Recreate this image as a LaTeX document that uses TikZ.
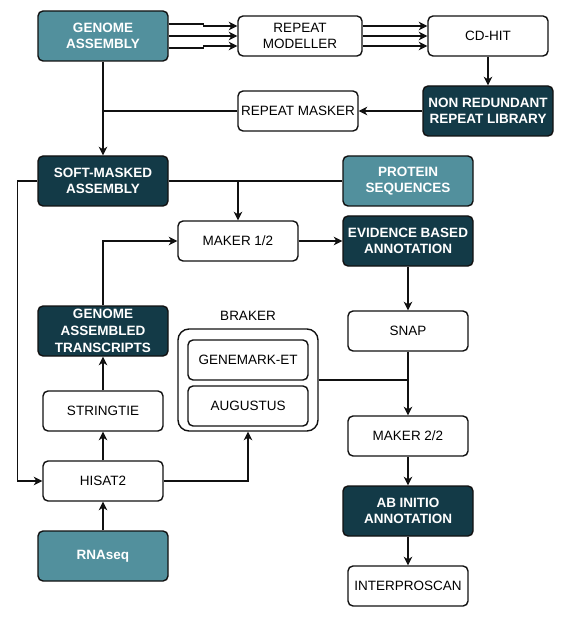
\documentclass[tikz,border=0pt]{standalone}
\usepackage{fontspec}
\setmainfont{Liberation Sans}
\usetikzlibrary{arrows.meta,calc}
\definecolor{teal1}{HTML}{52909D}
\definecolor{dark1}{HTML}{133A47}
\definecolor{edge1}{HTML}{111111}
\begin{document}
\begin{tikzpicture}[x=1pt,y=-1pt,
  box/.style={draw=edge1,line width=1.4pt,rounded corners=5pt,fill=white,
    minimum width=120pt,minimum height=40pt,inner sep=0pt,align=center,
    font=\fontsize{13.5}{16}\selectfont},
  bigbox/.style={box,minimum width=130pt,minimum height=50pt,text=white,
    font=\fontsize{13.5}{16}\selectfont\bfseries},
  tealbox/.style={bigbox,fill=teal1},
  darkbox/.style={bigbox,fill=dark1},
  conn/.style={draw=edge1,line width=1.5pt},
  arr/.style={conn,-{Stealth[length=8.5pt,width=8.5pt,inset=2.5pt]}}]
\useasboundingbox (0,0) rectangle (564,617);
% nodes
\node[tealbox] (ga) at (103,36) {GENOME\\ASSEMBLY};
\node[box,minimum width=124pt] (rm) at (300,36) {REPEAT\\MODELLER};
\node[box] (cd) at (488,36) {CD-HIT};
\node[darkbox] (nr) at (488,111) {NON REDUNDANT\\REPEAT LIBRARY};
\node[box] (rmask) at (298,111) {REPEAT MASKER};
\node[darkbox] (sm) at (103,181) {SOFT-MASKED\\ASSEMBLY};
\node[tealbox] (ps) at (408,181) {PROTEIN\\SEQUENCES};
\node[box] (m1) at (238,241) {MAKER 1/2};
\node[darkbox] (eba) at (408,241) {EVIDENCE BASED\\ANNOTATION};
\node[box] (snap) at (408,331) {SNAP};
\node[darkbox,font=\fontsize{13.5}{17}\selectfont\bfseries] (gat) at (103,331) {GENOME\\ASSEMBLED\\TRANSCRIPTS};
\node[box,minimum width=140pt,minimum height=102pt,rounded corners=11pt] (braker) at (248,380) {};
\node[font=\fontsize{13.5}{16}\selectfont] (brakerlbl) at (248,316) {BRAKER};
\node[box] (gm) at (248,360) {GENEMARK-ET};
\node[box] (aug) at (248,406) {AUGUSTUS};
\node[box] (st) at (103,411) {STRINGTIE};
\node[box] (hs) at (103,481) {HISAT2};
\node[box] (m2) at (408,436) {MAKER 2/2};
\node[darkbox] (ab) at (408,511) {AB INITIO\\ANNOTATION};
\node[tealbox] (rna) at (103,556) {RNAseq};
\node[box] (ip) at (408,586) {INTERPROSCAN};
% connectors
\draw[arr] ([yshift=12pt]ga.east) -- ++(35,0) |- ([yshift=10pt]rm.west);
\draw[arr] (ga.east) -- (rm.west);
\draw[arr] ([yshift=-12pt]ga.east) -- ++(35,0) |- ([yshift=-10pt]rm.west);
\draw[arr] ([yshift=10pt]rm.east) -- ([yshift=10pt]cd.west);
\draw[arr] (rm.east) -- (cd.west);
\draw[arr] ([yshift=-10pt]rm.east) -- ([yshift=-10pt]cd.west);
\draw[arr] (cd.south) -- (nr.north);
\draw[arr] (nr.west) -- (rmask.east);
\draw[conn] (rmask.west) -- (ga.south |- rmask.west);
\draw[arr] (ga.south) -- (sm.north);
\draw[conn] (sm.east) -- (ps.west);
\draw[arr] (m1.north |- sm.east) -- (m1.north);
\draw[arr] (sm.west) -- ++(-20,0) |- (hs.west);
\draw[arr] (hs.north) -- (st.south);
\draw[arr] (st.north) -- (gat.south);
\draw[arr] (gat.north) |- (m1.west);
\draw[arr] (hs.east) -| (braker.south);
\draw[arr] (m1.east) -- (eba.west);
\draw[arr] (eba.south) -- (snap.north);
\draw[arr] (snap.south) -- (m2.north);
\draw[conn] (braker.east) -- (snap.south |- braker.east);
\draw[arr] (m2.south) -- (ab.north);
\draw[arr] (ab.south) -- (ip.north);
\draw[arr] (rna.north) -- (hs.south);
\end{tikzpicture}
\end{document}
